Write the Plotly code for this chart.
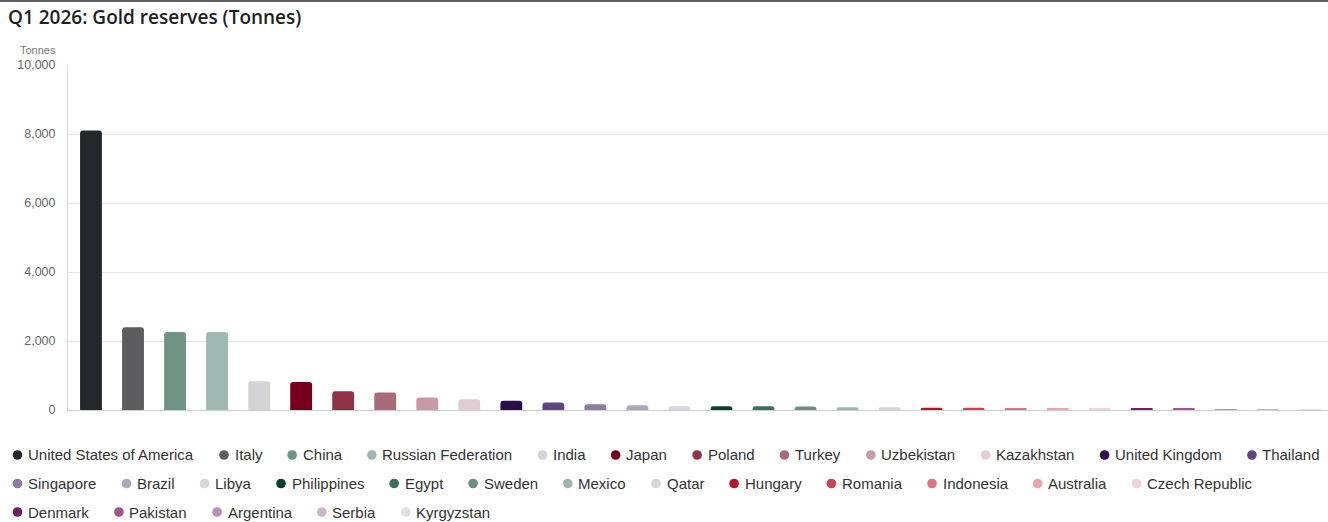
import plotly.graph_objects as go

# ---------------- data ----------------
countries = [
    "United States of America", "Italy", "China", "Russian Federation", "India",
    "Japan", "Poland", "Turkey", "Uzbekistan", "Kazakhstan", "United Kingdom",
    "Thailand", "Singapore", "Brazil", "Libya", "Philippines", "Egypt", "Sweden",
    "Mexico", "Qatar", "Hungary", "Romania", "Indonesia", "Australia",
    "Czech Republic", "Denmark", "Pakistan", "Argentina", "Serbia", "Kyrgyzstan",
]
tonnes = [
    8100, 2400, 2260, 2260, 830,
    810, 540, 510, 360, 310, 270,
    214, 165, 136, 107, 107, 107, 105,
    80, 78, 67, 67, 45, 45,
    35, 35, 30, 28, 25, 20,
]
colors = [
    "#25282b", "#5d5d5f", "#6f9485", "#a0b8b2", "#d4d4d6",
    "#76001c", "#8e3348", "#a96a7a", "#c79ba6", "#e3cdd3", "#2b0e4a",
    "#5f4582", "#8a7b9f", "#aea7ba", "#d8d6dc", "#0b3f2b", "#3f6f62", "#6e8e84",
    "#9fb5ae", "#d6d6d6", "#b8122d", "#cf3f55", "#de7284", "#e8a5b0",
    "#eed3d9", "#6b1f66", "#a0568d", "#bb8db7", "#cdb4c9", "#e3dde7",
]
y_ticks = [0, 2000, 4000, 6000, 8000, 10000]

# ---------------- layout geometry ----------------
W, H = 1328, 522
ML, MR, MT, MB = 68, 0, 65, 112
PW, PH = W - ML - MR, H - MT - MB


def pxx(px):
    return (px - ML) / PW


def pxy(py):
    return (H - MB - py) / PH


# Arial / Liberation Sans advance widths (per 1000 em)
AW = {" ": 278, "a": 556, "b": 556, "c": 500, "d": 556, "e": 556, "f": 278, "g": 556,
      "h": 556, "i": 222, "j": 222, "k": 500, "l": 222, "m": 833, "n": 556, "o": 556,
      "p": 556, "q": 556, "r": 333, "s": 500, "t": 278, "u": 556, "v": 500, "w": 722,
      "x": 500, "y": 500, "z": 500, "A": 667, "B": 667, "C": 722, "D": 722, "E": 667,
      "F": 611, "G": 778, "H": 722, "I": 278, "J": 500, "K": 667, "L": 556, "M": 833,
      "N": 722, "O": 778, "P": 667, "Q": 778, "R": 722, "S": 667, "T": 611, "U": 722,
      "V": 667, "W": 944, "X": 667, "Y": 667, "Z": 611}


def text_w(s, size):
    return sum(AW.get(ch, 556) for ch in s) * size / 1000.0


FONT = "Liberation Sans, Arial, sans-serif"

fig = go.Figure()
fig.add_trace(go.Bar(
    x=countries, y=tonnes,
    marker=dict(color=colors, line=dict(width=0)),
    showlegend=False,
    hovertemplate="%{x}: %{y:,} t<extra></extra>",
))

shapes = []
annotations = []

# top border line
shapes.append(dict(type="line", xref="paper", yref="paper",
                   x0=pxx(0), x1=pxx(W), y0=pxy(1), y1=pxy(1),
                   line=dict(color="#5e5e5e", width=2)))

# custom circular-marker legend
LEG_SIZE = 15
rows_y = [455, 483.5, 512]
start_x = 17.5
cx = start_x
row = 0
for name, col in zip(countries, colors):
    tw = text_w(name, LEG_SIZE)
    if cx > start_x and cx + 9.5 + tw > W + 6:
        row += 1
        cx = start_x
    yy = rows_y[row]
    shapes.append(dict(type="circle", xref="paper", yref="paper",
                       xsizemode="pixel", ysizemode="pixel",
                       xanchor=pxx(cx), yanchor=pxy(yy),
                       x0=-4.8, x1=4.8, y0=-4.8, y1=4.8,
                       fillcolor=col, line=dict(width=0)))
    annotations.append(dict(text=name, xref="paper", yref="paper",
                            x=pxx(cx + 8.5), y=pxy(yy), xanchor="left", yanchor="middle",
                            showarrow=False, font=dict(family=FONT, size=LEG_SIZE, color="#333333")))
    cx = cx + 9.5 + tw + 31.1

# axis unit label
annotations.append(dict(text="Tonnes", xref="paper", yref="paper",
                        x=pxx(38), y=pxy(50), xanchor="center", yanchor="middle",
                        showarrow=False, font=dict(family=FONT, size=11, color="#7a7a7a")))

fig.update_layout(
    width=W, height=H,
    margin=dict(l=ML, r=MR, t=MT, b=MB, autoexpand=False),
    paper_bgcolor="white", plot_bgcolor="white",
    bargap=0.48,
    barcornerradius=3,
    showlegend=False,
    title=dict(text="Q1 2026: Gold reserves (Tonnes)", x=8 / W, xanchor="left",
               y=1 - 17 / H, yanchor="middle", xref="container", yref="container",
               font=dict(family="Open Sans", size=19, weight=600, color="#1e1e1e")),
    xaxis=dict(type="category", showticklabels=False, ticks="", showgrid=False,
               range=[-0.547, 29.43],
               showline=True, linecolor="#cfcfcf", linewidth=1, zeroline=False,
               fixedrange=True),
    yaxis=dict(range=[0, 10000], tickvals=y_ticks, tickformat=",", ticks="",
               showgrid=True, gridcolor="#e6e6e6", gridwidth=1, zeroline=False,
               showline=True, linecolor="#d9d9d9", linewidth=1,
               ticklabelstandoff=9,
               tickfont=dict(family=FONT, size=12.5, color="#666666")),
    shapes=shapes,
    annotations=annotations,
    font=dict(family=FONT),
)

fig.write_html("out.html")
